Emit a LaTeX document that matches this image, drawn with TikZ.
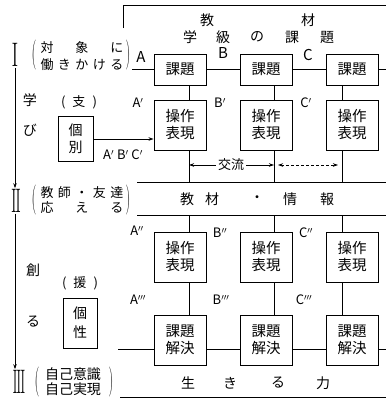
\documentclass[tikz,border=0pt]{standalone}
\usepackage{fontspec}
\newfontfamily\jp{Noto Sans CJK JP}
\usetikzlibrary{arrows.meta}
\begin{document}
\begin{tikzpicture}[x=1pt,y=-1pt,
  ln/.style={line width=0.8pt},
  arr/.style={ln,-{Stealth[length=5pt,width=3.5pt]}},
  box/.style={draw,line width=0.9pt,minimum width=52pt,inner sep=0pt,align=center,font=\jp\fontsize{14.5}{17}\selectfont},
  short/.style={box,minimum height=31pt},
  tall/.style={box,minimum height=50pt},
  lbl/.style={inner sep=0pt,font=\jp\fontsize{14}{16}\selectfont},
  sm/.style={inner sep=0pt,font=\jp\fontsize{13}{15}\selectfont},
  abc/.style={inner sep=0pt,font=\jp\fontsize{15}{15}\selectfont},
  pr/.style={inner sep=0pt,font=\jp\fontsize{13}{13}\selectfont},
  roman/.style={inner sep=1pt,font=\fontsize{34}{34}\selectfont},
  paren/.style={inner sep=0pt,font=\fontsize{15}{15}\selectfont}]
\useasboundingbox (0,0) rectangle (386,399);
% reference coordinates
\coordinate (R) at (386,0);
\coordinate (c1) at (189,0);
\coordinate (c2) at (274,0);
\coordinate (c3) at (342,0);
% top frame
\coordinate (tf) at (123,28);
\coordinate (tc) at (123,5);
\draw[ln] (tf) -- (tc) -- (tc -| R);
\node[lbl] (t1) at (207,20) {教};
\node[lbl] (t2) at (308,20) {材};
\node[lbl] (g1) at (190,37) {学};
\node[lbl] (g2) at (223,37) {級};
\node[lbl] (g3) at (257,37) {の};
\node[lbl] (g4) at (292,37) {課};
\node[lbl] (g5) at (327,37) {題};
% boxes
\node[short] (r1a) at (180,69.5) {課題};
\node[short] (r1b) at (266,69.5) {課題};
\node[short] (r1c) at (352,69.5) {課題};
\node[tall] (r2a) at (180,125) {操作\\表現};
\node[tall] (r2b) at (266,125) {操作\\表現};
\node[tall] (r2c) at (352,125) {操作\\表現};
\node[tall] (r3a) at (180,257) {操作\\表現};
\node[tall] (r3b) at (266,257) {操作\\表現};
\node[tall] (r3c) at (352,257) {操作\\表現};
\node[tall] (r4a) at (180,340) {課題\\解決};
\node[tall] (r4b) at (266,340) {課題\\解決};
\node[tall] (r4c) at (352,340) {課題\\解決};
% row 1 line
\coordinate (l1) at (132,69.5);
\draw[ln] (l1) -- (r1a.west) (r1a.east) -- (r1b.west) (r1b.east) -- (r1c.west) (r1c.east) -- (l1 -| R);
% verticals row1-row2
\draw[ln] (r1a.south -| c1) -- (r2a.north -| c1);
\draw[ln] (r1b.south -| c2) -- (r2b.north -| c2);
\draw[ln] (r1c.south -| c3) -- (r2c.north -| c3);
% band
\coordinate (bt) at (137,182);
\coordinate (bb) at (137,215);
\draw[ln] (bt) -- (bt -| R);
\draw[ln] (bb) -- (bb -| R);
\draw[ln] (r2a.south -| c1) -- (bt -| c1);
\draw[ln] (r2b.south -| c2) -- (bt -| c2);
\draw[ln] (r2c.south -| c3) -- (bt -| c3);
\draw[ln] (bb -| c1) -- (r3a.north -| c1);
\draw[ln] (bb -| c2) -- (r3b.north -| c2);
\draw[ln] (bb -| c3) -- (r3c.north -| c3);
\draw[ln] (r3a.south -| c1) -- (r4a.north -| c1);
\draw[ln] (r3b.south -| c2) -- (r4b.north -| c2);
\draw[ln] (r3c.south -| c3) -- (r4c.north -| c3);
% 交流
\coordinate (k) at (0,165);
\node[sm,fill=white,inner xsep=2pt] (kr) at (231,165) {交流};
\draw[arr] (kr.west) -- (k -| c1);
\draw[arr] (kr.east) -- (k -| c2);
\draw[ln,dashed,dash pattern=on 3pt off 2pt,{Stealth[length=5pt,width=3.5pt]}-{Stealth[length=5pt,width=3.5pt]},shorten <=4pt,shorten >=4pt] (k -| c2) -- (k -| c3);
% band text
\node[lbl] (b1) at (187,199) {教};
\node[lbl] (b2) at (212,199) {材};
\node[lbl] (b3) at (257,199) {・};
\node[lbl] (b4) at (290,199) {情};
\node[lbl] (b5) at (327,199) {報};
% row 4 line
\coordinate (l4) at (118,349);
\draw[ln] (l4) -- (l4 -| r4a.west) (l4 -| r4a.east) -- (l4 -| r4b.west) (l4 -| r4b.east) -- (l4 -| r4c.west) (l4 -| r4c.east) -- (l4 -| R);
% bottom
\coordinate (bl) at (120,397);
\draw[ln] (bl) -- (bl -| R);
\node[lbl] (s1) at (188,383) {生};
\node[lbl] (s2) at (230,383) {き};
\node[lbl] (s3) at (278,383) {る};
\node[lbl] (s4) at (323,383) {力};
% letter labels
\node[abc] (la) at (141,57) {A};
\node[abc] (lb) at (223,53) {B};
\node[abc] (lc) at (308,55) {C};
\node[pr] (la1) at (138,103) {A$'$};
\node[pr] (lb1) at (220,103) {B$'$};
\node[pr] (lc1) at (306,103) {C$'$};
\node[pr] (la2) at (137,231) {A$''$};
\node[pr] (lb2) at (220,233) {B$''$};
\node[pr] (lc2) at (306,233) {C$''$};
\node[pr] (la3) at (138,300) {A$'''$};
\node[pr] (lb3) at (221,300) {B$'''$};
\node[pr] (lc3) at (304,300) {C$'''$};
% left column
\node[roman] (n1) at (15,55) {\scalebox{0.6}[1]{I}};
\node[roman] (n2) at (16,201) {\scalebox{0.5}[1]{I\kern-2.5pt I}};
\node[roman] (n3) at (19,382) {\scalebox{0.45}[1]{I\kern-2.5pt I\kern-2.5pt I}};
\draw[arr] (n1.south) -- (n1.south |- n2.north);
\draw[arr] (n2.south -| n1.south) -- (n1.south |- n3.north);
\node[paren] (p1l) at (34,55) {\scalebox{0.9}[2]{(}};
\node[paren] (p1r) at (128,55) {\scalebox{0.9}[2]{)}};
\node[sm] (i1) at (82,48) {\makebox[83pt][s]{対\hfil 象\hfil に}};
\node[sm] (i2) at (82,65) {\makebox[83pt][s]{働\hfil き\hfil か\hfil け\hfil る}};
\node[paren] (p2l) at (34,200) {\scalebox{0.9}[2]{(}};
\node[paren] (p2r) at (128,200) {\scalebox{0.9}[2]{)}};
\node[sm] (ii1) at (82,193) {\makebox[83pt][s]{教\hfil 師\hfil ・\hfil 友\hfil 達}};
\node[sm] (ii2) at (82,208) {\makebox[83pt][s]{応\hfil え\hfil る}};
\node[paren] (p3l) at (37,382) {\scalebox{0.9}[2]{(}};
\node[paren] (p3r) at (111,382) {\scalebox{0.9}[2]{)}};
\node[lbl] (iii1) at (73,374) {自己意識};
\node[lbl] (iii2) at (73,389) {自己実現};
\node[lbl] (v1) at (30,100) {学};
\node[lbl] (v2) at (30,130) {び};
\node[lbl] (v3) at (33,270) {創};
\node[lbl] (v4) at (33,322) {る};
\node[sm] (sh) at (79,102) {\makebox[36pt][s]{(\hfil 支\hfil )}};
\node[sm] (en) at (80,283) {\makebox[36pt][s]{(\hfil 援\hfil )}};
\node[draw,line width=0.9pt,minimum width=35pt,minimum height=45pt,inner sep=0pt,align=center,font=\jp\fontsize{14}{17}\selectfont] (kb) at (75.5,139) {個\\別};
\node[draw,line width=0.9pt,minimum width=34pt,minimum height=50pt,inner sep=0pt,align=center,font=\jp\fontsize{14}{19}\selectfont] (ks) at (80,323) {個\\性};
\draw[arr] (kb.east) -- (kb.east -| r2a.west);
\node[pr] (abc1) at (123,155) {A$'$ B$'$ C$'$};
\end{tikzpicture}
\end{document}
